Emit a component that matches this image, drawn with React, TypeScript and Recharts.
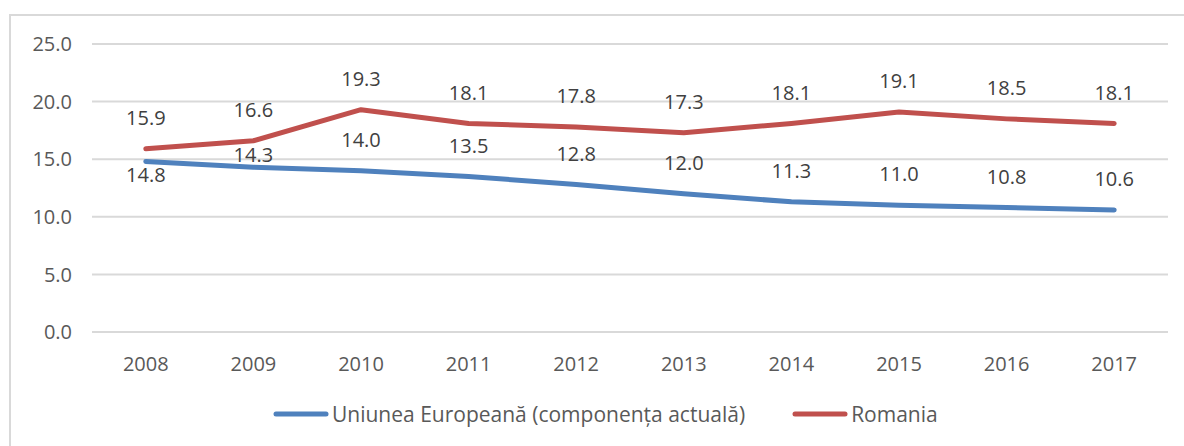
import React from 'react';
import { LineChart, Line, XAxis, YAxis, CartesianGrid, LabelList } from 'recharts';

const years = ['2008', '2009', '2010', '2011', '2012', '2013', '2014', '2015', '2016', '2017'];
const euValues = [14.8, 14.3, 14.0, 13.5, 12.8, 12.0, 11.3, 11.0, 10.8, 10.6];
const roValues = [15.9, 16.6, 19.3, 18.1, 17.8, 17.3, 18.1, 19.1, 18.5, 18.1];
const yTicks = [0, 5, 10, 15, 20, 25];
const seriesNames = ['Uniunea Europeană (componența actuală)', 'Romania'];

const BLUE = '#4F81BD';
const RED = '#C0504D';
const FONT = '"Open Sans", sans-serif';
const FS = 20;

// label vertical offsets (style only)
const euLabelDy = [13, -12, -31, -31, -31, -31, -31, -31, -31, -31];
const roLabelDy = -31;

const data = years.map((y, i) => ({ year: y, eu: euValues[i], ro: roValues[i] }));

const makeLabel = (getDy: (i: number) => number) => (props: any) => {
  const { x, y, value, index } = props;
  return (
    <text
      x={x}
      y={y + getDy(index)}
      dy="0.36em"
      textAnchor="middle"
      fill="#404040"
      fontSize={FS}
      fontFamily={FONT}
    >
      {Number(value).toFixed(1)}
    </text>
  );
};

const LegendItem = ({ color, name }: { color: string; name: string }) => (
  <div style={{ display: 'flex', alignItems: 'center' }}>
    <svg width={56} height={6} style={{ display: 'block' }}>
      <line x1={3} y1={3} x2={53} y2={3} stroke={color} strokeWidth={5} strokeLinecap="round" />
    </svg>
    <span style={{ marginLeft: 3, color: '#595959', fontSize: 21, fontFamily: FONT, whiteSpace: 'nowrap' }}>{name}</span>
  </div>
);

export default function App() {
  return (
    <div style={{ position: 'fixed', left: 0, top: 0, width: 1184, height: 446, overflow: 'hidden', background: '#fff' }}>
      <div
        style={{
          position: 'absolute',
          left: 9,
          top: 14,
          width: 1300,
          height: 600,
          borderTop: '2px solid #d9d9d9',
          borderLeft: '2px solid #d9d9d9',
        }}
      />
      <div style={{ position: 'absolute', left: 0, top: 0 }}>
        <LineChart width={1184} height={446} data={data} margin={{ top: 44, right: 16, bottom: 84, left: 0 }}>
          <CartesianGrid vertical={false} stroke="#d9d9d9" strokeWidth={2} />
          <XAxis
            dataKey="year"
            scale="band"
            height={30}
            axisLine={false}
            tickLine={false}
            tickMargin={19}
            tick={{ fill: '#595959', fontSize: FS, fontFamily: FONT }}
          />
          <YAxis
            width={92}
            domain={[0, 25]}
            ticks={yTicks}
            interval={0}
            axisLine={false}
            tickLine={false}
            tickMargin={14}
            tickFormatter={(v: number) => v.toFixed(1)}
            tick={{ fill: '#595959', fontSize: FS, fontFamily: FONT }}
          />
          <Line
            type="linear"
            dataKey="eu"
            name={seriesNames[0]}
            stroke={BLUE}
            strokeWidth={5}
            strokeLinecap="round"
            strokeLinejoin="round"
            dot={false}
            isAnimationActive={false}
          >
            <LabelList dataKey="eu" content={makeLabel((i) => euLabelDy[i])} />
          </Line>
          <Line
            type="linear"
            dataKey="ro"
            name={seriesNames[1]}
            stroke={RED}
            strokeWidth={5}
            strokeLinecap="round"
            strokeLinejoin="round"
            dot={false}
            isAnimationActive={false}
          >
            <LabelList dataKey="ro" content={makeLabel(() => roLabelDy)} />
          </Line>
        </LineChart>
      </div>
      <div style={{ position: 'absolute', left: 273, top: 400, display: 'flex', alignItems: 'center', gap: 47 }}>
        <LegendItem color={BLUE} name={seriesNames[0]} />
        <LegendItem color={RED} name={seriesNames[1]} />
      </div>
    </div>
  );
}
